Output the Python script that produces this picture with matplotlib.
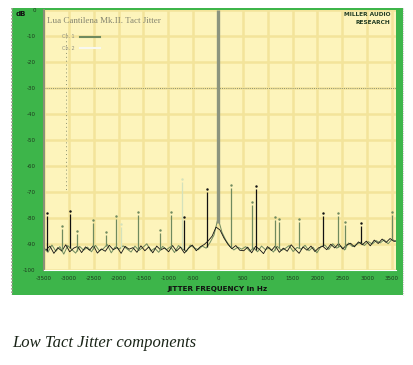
import numpy as np
import matplotlib
matplotlib.use('Agg')
import matplotlib.pyplot as plt
from matplotlib.patches import Rectangle

# axis ticks
xticks = [-3500, -3000, -2500, -2000, -1500, -1000, -500, 0,
          500, 1000, 1500, 2000, 2500, 3000, 3500]
yticks = [0, -10, -20, -30, -40, -50, -60, -70, -80, -90, -100]

# noise floor traces (dB), equally spaced across the span
noise_grey = [
    -91.5, -93.2, -90.4, -92.8, -91.0, -93.9, -90.6, -92.1, -93.5, -90.9,
    -92.4, -91.2, -93.0, -90.5, -92.6, -91.8, -90.2, -93.4, -91.1, -92.0,
    -90.7, -91.9, -93.1, -90.8, -92.5, -91.3, -89.9, -92.7, -91.6, -93.2,
    -90.9, -92.2, -91.0, -93.3, -90.6, -91.8, -92.9, -90.4, -91.5, -92.2,
    -90.8, -91.6, -89.4, -86.5, -80.0, -85.5, -88.6, -90.9, -92.3, -91.2,
    -92.0, -91.0, -92.8, -91.5, -93.0, -90.8, -92.2, -91.4, -93.1, -90.9,
    -92.5, -91.7, -90.6, -92.9, -91.3, -92.0, -90.5, -92.6, -91.2, -93.4,
    -91.0, -90.4, -92.1, -89.9, -91.6, -90.7, -92.3, -89.6, -91.0, -90.2,
    -89.3, -90.6, -89.1, -90.0, -88.7, -89.6, -88.4, -89.9, -88.2, -89.0,
]
noise_black = [
    -92.3, -90.8, -93.6, -91.4, -92.7, -90.3, -93.0, -91.6, -90.9, -93.3,
    -91.1, -92.4, -90.6, -93.5, -91.9, -92.8, -90.5, -92.2, -91.3, -93.6,
    -90.9, -92.0, -91.4, -93.2, -90.7, -92.6, -91.1, -93.4, -90.8, -92.3,
    -91.5, -93.0, -90.6, -92.7, -91.2, -93.5, -91.7, -90.4, -92.6, -91.1,
    -90.2, -88.8, -87.0, -83.5, -84.6, -87.7, -90.1, -91.8, -90.6, -92.4,
    -92.6, -91.2, -93.4, -90.9, -92.1, -93.7, -91.0, -92.5, -90.7, -93.2,
    -91.6, -92.8, -90.3, -92.0, -93.6, -91.1, -92.4, -90.8, -92.9, -91.4,
    -90.9, -92.2, -90.1, -91.5, -89.8, -91.9, -90.4, -89.7, -91.1, -89.2,
    -90.3, -88.9, -90.7, -88.5, -89.8, -88.1, -89.4, -87.9, -89.0, -88.6,
]

# discrete jitter components
spike_freq = [-3440, -3137, -2976, -2836, -2514, -2252, -2051, -1951, -1609,
              -1166, -945, -724, -684, -221, 261, 684, 764, 1146, 1227,
              1629, 2112, 2413, 2554, 2876, 3500]
spike_level = [-79.2, -84.2, -78.5, -86.2, -81.9, -86.5, -80.4, -83.5, -78.8,
               -85.8, -78.8, -66.2, -80.8, -70.0, -68.5, -75.0, -68.8, -80.8,
               -81.5, -81.5, -79.2, -79.2, -82.7, -83.1, -78.8]
spike_col = ['k', 'g', 'k', 'g', 'g', 'g', 'g', 'w', 'g',
             'g', 'g', 'w', 'k', 'k', 'g', 'g', 'k', 'g',
             'g', 'g', 'k', 'g', 'g', 'k', 'g']

W, H = 414, 365
fig = plt.figure(figsize=(W / 100, H / 100), dpi=100)
fig.patch.set_facecolor('white')

def fx(px):
    return px / W

def fy(py):
    return 1 - py / H

# green frame
fig.patches.append(Rectangle((fx(12), fy(295)), fx(403) - fx(12), fy(8) - fy(295),
                             transform=fig.transFigure, facecolor='#3db54a',
                             edgecolor='none', zorder=-10))
fig.add_artist(plt.Line2D([fx(12.5), fx(12.5)], [fy(8), fy(295)], transform=fig.transFigure,
                          color='#9a9a8a', lw=1.2, ls=(0, (1, 1)), zorder=-5))
fig.add_artist(plt.Line2D([fx(403), fx(403)], [fy(8), fy(295)], transform=fig.transFigure,
                          color='#c8c8c8', lw=0.8, ls=(0, (1, 1)), zorder=-5))

ax = fig.add_axes([fx(44), fy(270), fx(396) - fx(44), fy(10) - fy(270)])
ax.set_zorder(1)
ax.set_facecolor('#fdf4bb')
ax.set_xlim(-3500, 3580)
ax.set_ylim(-100, 0)
ax.set_xticks(xticks)
ax.set_yticks(yticks)
ax.set_xticklabels([str(t) for t in xticks], fontsize=4, color='#1e3a1e')
ax.set_yticklabels([str(t) for t in yticks], fontsize=4, color='#1e3a1e')
ax.tick_params(axis='x', length=0, pad=4)
ax.tick_params(axis='y', length=0, pad=6)
ax.grid(True, color='#f3e49a', lw=1.8)
ax.set_axisbelow(True)
for s in ['top', 'right']:
    ax.spines[s].set_visible(False)
ax.spines['left'].set_color('#8a9078')
ax.spines['left'].set_linewidth(1.5)
ax.spines['bottom'].set_color('white')
ax.spines['bottom'].set_linestyle((0, (1, 1)))
ax.spines['bottom'].set_linewidth(0.8)

# reference lines
ax.axhline(-30, color='#8a9070', lw=0.7, ls=(0, (1, 1.2)))
ax.plot([-3050, -3050], [-9, -70], color='#8a9070', lw=0.7, ls=(0, (1, 3)))

freq = np.linspace(-3500, 3580, len(noise_grey))
step = freq[1] - freq[0]
ax.plot(freq, noise_grey, color='#6f8a5e', lw=0.7, zorder=3)
ax.plot(freq + step / 2, noise_black, color='#111111', lw=0.6, zorder=4)

cmap = {'k': '#111111', 'g': '#6f8a5e', 'w': '#d4e2bc'}
for f, lv, c in zip(spike_freq, spike_level, spike_col):
    floor = np.interp(f, freq, noise_grey)
    ax.vlines(f, floor, lv, color=cmap[c], lw=0.9, zorder=5)
    ax.plot(f, lv + 1.2, marker='.', ms=1.5, color=cmap[c], zorder=5)

# carrier at 0 Hz
ax.vlines(0, -82, 0, color='#8c947e', lw=2.4, zorder=6)

# texts
fig.text(fx(47), fy(21), 'Lua Cantilena Mk.II. Tact Jitter', family='Liberation Serif',
         fontsize=6.5, color='#858570', va='center', ha='left', zorder=5)
fig.text(fx(62), fy(37), 'Ch. 1', fontsize=3.5, color='#909080', va='center', zorder=5)
fig.add_artist(plt.Line2D([fx(80), fx(100)], [fy(37), fy(37)], transform=fig.transFigure,
                          color='#6f8a5e', lw=1.5, zorder=5))
fig.text(fx(62), fy(48), 'Ch. 2', fontsize=3.5, color='#909080', va='center', zorder=5)
fig.add_artist(plt.Line2D([fx(80), fx(100)], [fy(48), fy(48)], transform=fig.transFigure,
                          color='#f8f8f0', lw=1.5, zorder=5))
fig.text(fx(391), fy(15), 'MILLER AUDIO', fontsize=4.2, weight='bold', color='#233d23',
         ha='right', va='center', zorder=5)
fig.text(fx(373), fy(23), 'RESEARCH', fontsize=4.2, weight='bold', color='#233d23',
         ha='center', va='center', zorder=5)
fig.text(fx(21), fy(14), 'dB', fontsize=5, weight='bold', color='#111111',
         ha='center', va='center', zorder=5)
fig.text(fx(218), fy(289), 'JITTER FREQUENCY in Hz', fontsize=5.2, weight='bold',
         color='#111111', ha='center', va='center', zorder=5)

fig.text(fx(12), fy(347), 'Low Tact Jitter components', family='Liberation Serif',
         style='italic', fontsize=12, color='#1a2418', ha='left', va='baseline')

fig.savefig('out.png', dpi=100, facecolor='white')
